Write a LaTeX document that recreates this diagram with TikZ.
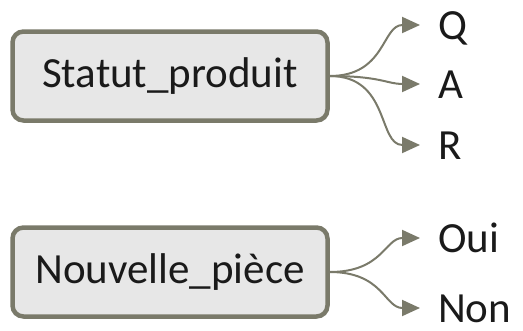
\documentclass[tikz,border=0pt]{standalone}
\usepackage{fontspec}
\setmainfont{Carlito}
\usetikzlibrary{arrows.meta}
\definecolor{linegray}{HTML}{7A7A6A}
\definecolor{boxfill}{HTML}{E7E7E7}
\definecolor{ink}{HTML}{1A1A1A}
\tikzset{
  varbox/.style={draw=linegray,fill=boxfill,line width=4.5pt,rounded corners=11pt,
    minimum width=315pt,minimum height=89pt,inner sep=0pt,text=ink},
  value/.style={anchor=base west,inner sep=0pt,text height=28pt,text depth=0pt,text=ink},
  branch/.style={draw=linegray,line width=2pt,-{Triangle[length=18pt,width=16pt]},
    shorten >=18pt,out=0,in=180,looseness=1.2}
}
\begin{document}
\begin{tikzpicture}[x=1pt,y=-1pt,font=\fontsize{43}{50}\selectfont]
\useasboundingbox (0,0) rectangle (523,330);
% variables
\node[varbox] (statut) at (170,76) {Statut\_produit};
\node[varbox] (nouv) at (170,272) {Nouvelle\_pièce};
% valeurs possibles
\node[value] (q) at (438,39) {Q};
\node[value] (a) at (438,98) {A};
\node[value] (r) at (438,159) {R};
\node[value] (oui) at (438,252) {Oui};
\node[value] (non) at (438,322) {Non};
\foreach \v in {q,a,r}
  \draw[branch] (statut.east) to (\v.west);
\foreach \v in {oui,non}
  \draw[branch] (nouv.east) to (\v.west);
\end{tikzpicture}
\end{document}
